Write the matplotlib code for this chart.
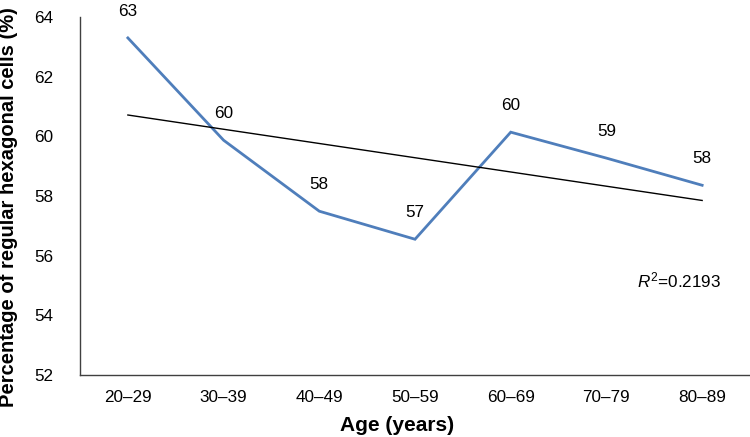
import numpy as np
import matplotlib.pyplot as plt

plt.rcParams['font.family'] = ['Liberation Sans', 'DejaVu Sans']
plt.rcParams['mathtext.fontset'] = 'custom'
plt.rcParams['mathtext.rm'] = 'Liberation Sans'
plt.rcParams['mathtext.it'] = 'Liberation Sans:italic'

# data
age_groups = ['20–29', '30–39', '40–49', '50–59', '60–69', '70–79', '80–89']
pct_hex = [63.3, 59.87, 57.49, 56.55, 60.14, 59.27, 58.36]
pct_labels = ['63', '60', '58', '57', '60', '59', '58']
r2_text = r'$\mathit{R}^{2}$=0.2193'

x = np.arange(len(age_groups))

fig = plt.figure(figsize=(7.5, 4.37), dpi=100)
ax = fig.add_axes([0.1067, 0.142, 0.8933, 0.819])

ax.plot(x, pct_hex, color='#4F7EBB', lw=2.0, solid_joinstyle='miter')

# linear trend line
k, b = np.polyfit(x, pct_hex, 1)
ax.plot(x, k * x + b, color='black', lw=1.0)

for xi, yi, lab in zip(x, pct_hex, pct_labels):
    ax.annotate(lab, (xi, yi), xytext=(0, 19), textcoords='offset points',
                ha='center', va='center', fontsize=12.3)

ax.text(5.32, 55.17, r2_text, fontsize=12.3, ha='left', va='center')

ax.set_xlim(-0.5, 6.5)
ax.set_ylim(52, 64)
ax.set_yticks(np.arange(52, 65, 2))
ax.set_xticks(x)
ax.set_xticklabels(age_groups)

ax.tick_params(axis='both', length=0, labelsize=12.3)
ax.tick_params(axis='y', pad=19)
ax.tick_params(axis='x', pad=11)

for s in ['top', 'right']:
    ax.spines[s].set_visible(False)
for s in ['left', 'bottom']:
    ax.spines[s].set_color('#404040')
    ax.spines[s].set_linewidth(1.0)

ax.set_ylabel('Percentage of regular hexagonal cells (%)', fontsize=14.5,
              fontweight='bold')
ax.yaxis.set_label_coords(-0.092, 0.47)
ax.set_xlabel('Age (years)', fontsize=15, fontweight='bold')
ax.xaxis.set_label_coords(0.473, -0.115)

fig.savefig('out.png', dpi=100)
